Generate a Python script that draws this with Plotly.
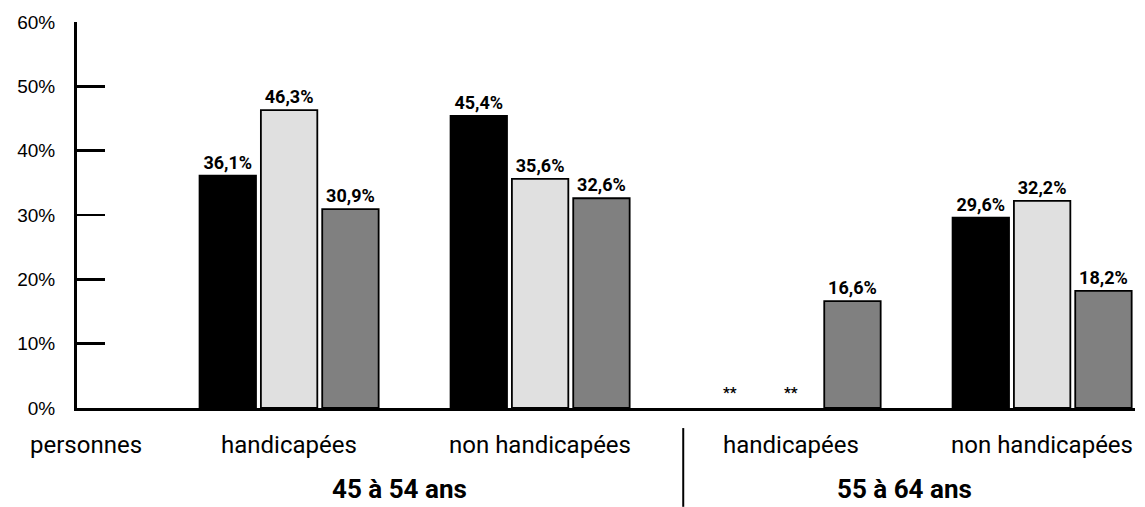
import plotly.graph_objects as go

groups = ["handicapées", "non handicapées", "handicapées", "non handicapées"]
first_label = "personnes"
age_labels = ["45 à 54 ans", "55 à 64 ans"]
yticks = [0, 10, 20, 30, 40, 50, 60]

serie_noire = [36.1, 45.4, None, 29.6]
serie_claire = [46.3, 35.6, None, 32.2]
serie_grise = [30.9, 32.6, 16.6, 18.2]
missing_mark = "**"

colors = ["#000000", "#e0e0e0", "#808080"]
series = [serie_noire, serie_claire, serie_grise]

x = list(range(len(groups)))
BARGAP = 0.267
LABEL_FAMILY = "Roboto, Noto Sans, sans-serif"

fig = go.Figure()
for vals, col in zip(series, colors):
    fig.add_trace(go.Bar(
        x=x, y=vals, marker=dict(color=col, line=dict(color="#000", width=1.8)),
        text=[f"<b>{v:.1f}%</b>".replace(".", ",") if v is not None else "" for v in vals],
        textposition="outside", cliponaxis=False,
        textfont=dict(family=LABEL_FAMILY, size=18, color="#000"),
        showlegend=False, hoverinfo="skip",
    ))

annotations = []
slot = (1 - BARGAP) / len(series)
for j, vals in enumerate(series):
    for i, v in enumerate(vals):
        if v is None:
            annotations.append(dict(x=i + (j - 1) * slot, y=0, xref="x", yref="y", text=f"<b>{missing_mark}</b>",
                                    showarrow=False, yanchor="bottom", yshift=4,
                                    font=dict(family=LABEL_FAMILY, size=15, color="#000")))

for i, g in enumerate(groups):
    annotations.append(dict(x=i, y=-0.096, xref="x", yref="paper", text=g, showarrow=False,
                            yanchor="middle", font=dict(family=LABEL_FAMILY, size=24, color="#000")))
annotations.append(dict(x=-0.81, y=-0.096, xref="x", yref="paper", text=first_label, showarrow=False,
                        yanchor="middle", font=dict(family=LABEL_FAMILY, size=24, color="#000")))
age_x = [0.44, 2.45]
for a, ax in zip(age_labels, age_x):
    annotations.append(dict(x=ax, y=-0.211, xref="x", yref="paper", text=f"<b>{a}</b>", showarrow=False,
                            yanchor="middle", font=dict(family=LABEL_FAMILY, size=26, color="#000")))

fig.update_layout(
    width=1145, height=507,
    margin=dict(l=77, r=10, t=22, b=99),
    plot_bgcolor="white", paper_bgcolor="white",
    barmode="group", bargap=BARGAP, bargroupgap=0.08,
    annotations=annotations,
    shapes=[dict(type="line", xref="paper", yref="paper", x0=0.573, x1=0.573, y0=-0.052, y1=-0.256,
                 line=dict(color="#000", width=2))],
    xaxis=dict(range=[-0.845, 3.37], showticklabels=False, ticks="", showline=True,
               linecolor="#000", linewidth=3, showgrid=False, zeroline=False, fixedrange=True),
    yaxis=dict(range=[0, 60], tickmode="array", tickvals=yticks, ticktext=[f"{v}%" for v in yticks],
               ticks="inside", ticklen=28, tickwidth=2.5,
               tickcolor="#000", showline=True, linecolor="#000", linewidth=3, showgrid=False, zeroline=False,
               tickfont=dict(family="Liberation Sans, Arial, sans-serif", size=19, color="#000"),
               ticklabelstandoff=15, fixedrange=True),
)

fig.write_html("out.html", config={"displayModeBar": False, "staticPlot": True},
               post_script="document.body.style.margin='0';document.body.style.overflow='hidden';")
